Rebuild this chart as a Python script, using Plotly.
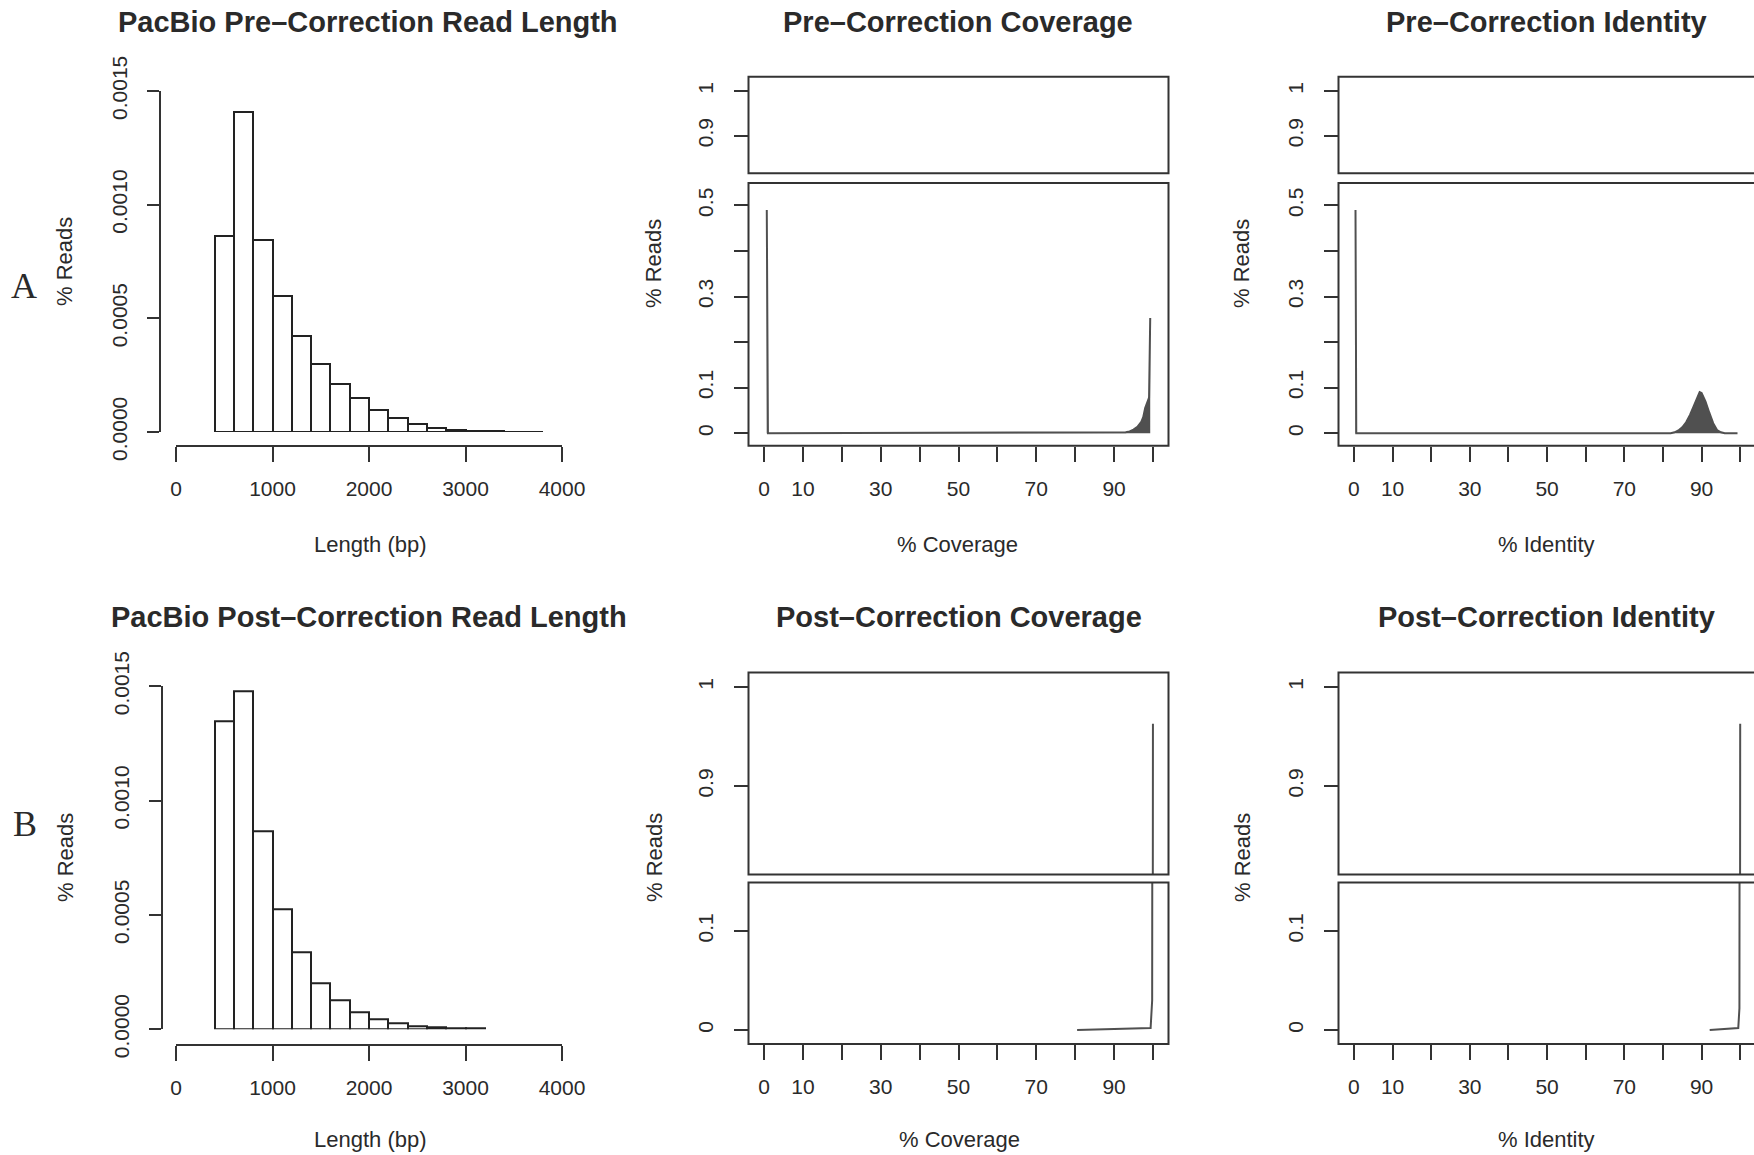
import plotly.graph_objects as go

W, H = 1754, 1155

# ---------------- data ----------------
bin_edges_left = [400, 600, 800, 1000, 1200, 1400, 1600, 1800, 2000, 2200,
                  2400, 2600, 2800, 3000, 3200, 3400, 3600]
bin_width = 200
pre_len_density = [0.000861, 0.001406, 0.000845, 0.000597, 0.000424, 0.000298,
                   0.000212, 0.000149, 0.0000974, 0.0000628, 0.0000346,
                   0.0000188, 0.000011, 0.000006, 0.000003, 0.000002, 0.000001]
post_len_density = [0.001348, 0.001476, 0.000866, 0.000525, 0.000337, 0.000201,
                    0.000128, 0.0000722, 0.0000449, 0.000024, 0.000014,
                    0.000007, 0.000004, 0.000002]

pre_cov_pct = [0.7, 1.0, 93, 94, 95, 96, 97, 97.5, 98, 98.5, 99, 99.3]
pre_cov_frac = [0.49, 0.0, 0.002, 0.004, 0.008, 0.014, 0.025, 0.035, 0.055, 0.068, 0.078, 0.253]

pre_id_pct = [0.4, 0.6, 82, 83, 84, 85, 86, 87, 88, 89, 89.5, 90, 91, 92, 93, 94, 95, 96, 99.3]
pre_id_frac = [0.49, 0.0, 0.0, 0.002, 0.006, 0.013, 0.024, 0.040, 0.060, 0.082, 0.090,
               0.088, 0.070, 0.045, 0.022, 0.007, 0.002, 0.0, 0.0]

post_cov_pct = [80.5, 99.4, 99.8, 100.0]
post_cov_frac = [0.0, 0.002, 0.03, 0.963]

post_id_pct = [92.1, 99.5, 99.8, 100.0]
post_id_frac = [0.0, 0.002, 0.022, 0.963]

len_ticks = [0, 1000, 2000, 3000, 4000]
len_yticks = [0, 0.0005, 0.0010, 0.0015]
len_yticktext = ["0.0000", "0.0005", "0.0010", "0.0015"]
pct_ticks = [0, 10, 20, 30, 40, 50, 60, 70, 80, 90, 100]
pct_ticktext = ["0", "10", "", "30", "", "50", "", "70", "", "90", ""]
pre_low_ticks = [0, 0.1, 0.2, 0.3, 0.4, 0.5]
pre_low_text = ["0", "0.1", "", "0.3", "", "0.5"]
up_ticks = [0.9, 1.0]
up_text = ["0.9", "1"]
post_low_ticks = [0, 0.1]
post_low_text = ["0", "0.1"]

# ---------------- helpers ----------------
def fx(px):
    return px / W

def fy(py):
    return 1 - py / H

FONT = "Liberation Sans, Arial, Helvetica, sans-serif"
INK = "#2a2a2a"
LINE = "#333333"
DATA = "#505050"
TICKFONT = dict(family=FONT, size=21, color=INK)

fig = go.Figure()

# ---------------- histograms ----------------
centers_pre = [e + bin_width / 2 for e in bin_edges_left[:len(pre_len_density)]]
centers_post = [e + bin_width / 2 for e in bin_edges_left[:len(post_len_density)]]
fig.add_trace(go.Bar(x=centers_pre, y=pre_len_density, width=bin_width,
                     marker=dict(color="white", line=dict(color="#222222", width=2)),
                     cliponaxis=False, xaxis="x", yaxis="y", showlegend=False))
fig.add_trace(go.Bar(x=centers_post, y=post_len_density, width=bin_width,
                     marker=dict(color="white", line=dict(color="#222222", width=2)),
                     cliponaxis=False, xaxis="x2", yaxis="y2", showlegend=False))

# ---------------- distribution panels (broken y axis) ----------------
def add_dist(xs, ys, xa, ya_low, ya_up, fill):
    kw = dict(mode="lines", line=dict(color=DATA, width=2), showlegend=False,
              hoverinfo="skip")
    if fill:
        kw.update(fill="tozeroy", fillcolor=DATA)
    fig.add_trace(go.Scatter(x=xs, y=ys, xaxis=xa, yaxis=ya_low, **kw))
    fig.add_trace(go.Scatter(x=xs, y=ys, xaxis=xa, yaxis=ya_up, **kw))

add_dist(pre_cov_pct, pre_cov_frac, "x3", "y3", "y4", True)
add_dist(pre_id_pct, pre_id_frac, "x4", "y5", "y6", True)
add_dist(post_cov_pct, post_cov_frac, "x5", "y7", "y8", False)
add_dist(post_id_pct, post_id_frac, "x6", "y9", "y10", False)

common_ax = dict(showgrid=False, zeroline=False, ticks="outside", tickwidth=2,
                 tickcolor=LINE, tickfont=TICKFONT)

layout = dict(
    width=W, height=H, margin=dict(l=0, r=0, t=0, b=0),
    paper_bgcolor="white", plot_bgcolor="white", template="none",
    showlegend=False, bargap=0,
)

XSTAND = 9
YSTAND = 12

# hist A
layout["xaxis"] = dict(common_ax, domain=[fx(176), fx(562)], range=[0, 4000],
                       anchor="free", position=fy(446), showline=True,
                       linecolor=LINE, linewidth=2, ticklen=15,
                       tickvals=len_ticks, ticklabelstandoff=XSTAND)
layout["yaxis"] = dict(common_ax, domain=[fy(432), fy(91)], range=[0, 0.0015],
                       anchor="free", position=fx(160), showline=True,
                       linecolor=LINE, linewidth=2, ticklen=12,
                       tickvals=len_yticks, ticktext=len_yticktext,
                       tickangle=-90, ticklabelstandoff=YSTAND)
# hist B
layout["xaxis2"] = dict(common_ax, domain=[fx(176), fx(562)], range=[0, 4000],
                        anchor="free", position=fy(1045), showline=True,
                        linecolor=LINE, linewidth=2, ticklen=15,
                        tickvals=len_ticks, ticklabelstandoff=XSTAND)
layout["yaxis2"] = dict(common_ax, domain=[fy(1029.2), fy(686.3)], range=[0, 0.0015],
                        anchor="free", position=fx(162), showline=True,
                        linecolor=LINE, linewidth=2, ticklen=12,
                        tickvals=len_yticks, ticktext=len_yticktext,
                        tickangle=-90, ticklabelstandoff=YSTAND)

mid_dom = [fx(748.5), fx(1168.5)]
right_dom = [fx(1338.5), 1.0]
mid_rng = [-4, 104]
right_rng = [-4, (1754 - 1353.9) / 3.863]

pre_low_dom = [fy(445.7), fy(182.9)]
pre_up_dom = [fy(173.2), fy(76.8)]
pre_low_rng = [-0.02744, 0.5494]
pre_up_rng = [0.8159, 1.0321]
post_low_dom = [fy(1043.9), fy(882.5)]
post_up_dom = [fy(874.5), fy(672.4)]
post_low_rng = [-0.01408, 0.1489]
post_up_rng = [0.8107, 1.01485]

def xax(dom, rng, anchor):
    return dict(common_ax, domain=dom, range=rng, anchor=anchor, showline=False,
                ticklen=15, tickvals=pct_ticks, ticktext=pct_ticktext,
                ticklabelstandoff=XSTAND)

def yax(dom, rng, anchor, tv, tt):
    return dict(common_ax, domain=dom, range=rng, anchor=anchor, showline=False,
                ticklen=14, tickvals=tv, ticktext=tt, tickangle=-90,
                ticklabelstandoff=YSTAND)

layout["xaxis3"] = xax(mid_dom, mid_rng, "y3")
layout["yaxis3"] = yax(pre_low_dom, pre_low_rng, "x3", pre_low_ticks, pre_low_text)
layout["yaxis4"] = yax(pre_up_dom, pre_up_rng, "x3", up_ticks, up_text)

layout["xaxis4"] = xax(right_dom, right_rng, "y5")
layout["yaxis5"] = yax(pre_low_dom, pre_low_rng, "x4", pre_low_ticks, pre_low_text)
layout["yaxis6"] = yax(pre_up_dom, pre_up_rng, "x4", up_ticks, up_text)

layout["xaxis5"] = xax(mid_dom, mid_rng, "y7")
layout["yaxis7"] = yax(post_low_dom, post_low_rng, "x5", post_low_ticks, post_low_text)
layout["yaxis8"] = yax(post_up_dom, post_up_rng, "x5", up_ticks, up_text)

layout["xaxis6"] = xax(right_dom, right_rng, "y9")
layout["yaxis9"] = yax(post_low_dom, post_low_rng, "x6", post_low_ticks, post_low_text)
layout["yaxis10"] = yax(post_up_dom, post_up_rng, "x6", up_ticks, up_text)

# boxes around the broken-axis panels
shapes = []
for xa, ya, x1 in [("x3", "y3", 1), ("x3", "y4", 1), ("x4", "y5", 1.03), ("x4", "y6", 1.03),
                   ("x5", "y7", 1), ("x5", "y8", 1), ("x6", "y9", 1.03), ("x6", "y10", 1.03)]:
    shapes.append(dict(type="rect", xref=f"{xa} domain", yref=f"{ya} domain",
                       x0=0, x1=x1, y0=0, y1=1, line=dict(color=LINE, width=2),
                       fillcolor="rgba(0,0,0,0)", layer="above"))
layout["shapes"] = shapes

# ---------------- text ----------------
ann = []
def text(t, px, py, size, angle=0, family=FONT, bold=False):
    ann.append(dict(text=f"<b>{t}</b>" if bold else t, x=fx(px), y=fy(py),
                    xref="paper", yref="paper", xanchor="center", yanchor="middle",
                    showarrow=False, textangle=angle,
                    font=dict(family=family, size=size, color=INK)))

text("PacBio Pre–Correction Read Length", 368, 22, 29, bold=True)
text("Pre–Correction Coverage", 958, 22, 29, bold=True)
text("Pre–Correction Identity", 1546, 22, 29, bold=True)
text("PacBio Post–Correction Read Length", 369, 617, 29, bold=True)
text("Post–Correction Coverage", 959, 617, 29, bold=True)
text("Post–Correction Identity", 1546, 617, 29, bold=True)

text("Length (bp)", 370, 544, 22)
text("% Coverage", 958, 544, 22)
text("% Identity", 1546, 544, 22)
text("Length (bp)", 370, 1139, 22)
text("% Coverage", 959, 1139, 22)
text("% Identity", 1546, 1139, 22)

for px, py in [(64, 262), (654, 264), (1242, 264), (65, 858), (654, 858), (1242, 858)]:
    text("% Reads", px, py, 22, angle=-90)

text("A", 24, 286, 36, family="Liberation Serif, Times New Roman, serif")
text("B", 25, 824, 36, family="Liberation Serif, Times New Roman, serif")
layout["annotations"] = ann

fig.update_layout(**layout)
fig.write_html(
    "out.html",
    config={"displayModeBar": False},
    post_script="document.body.style.margin='0px';document.body.style.overflow='hidden';",
)
